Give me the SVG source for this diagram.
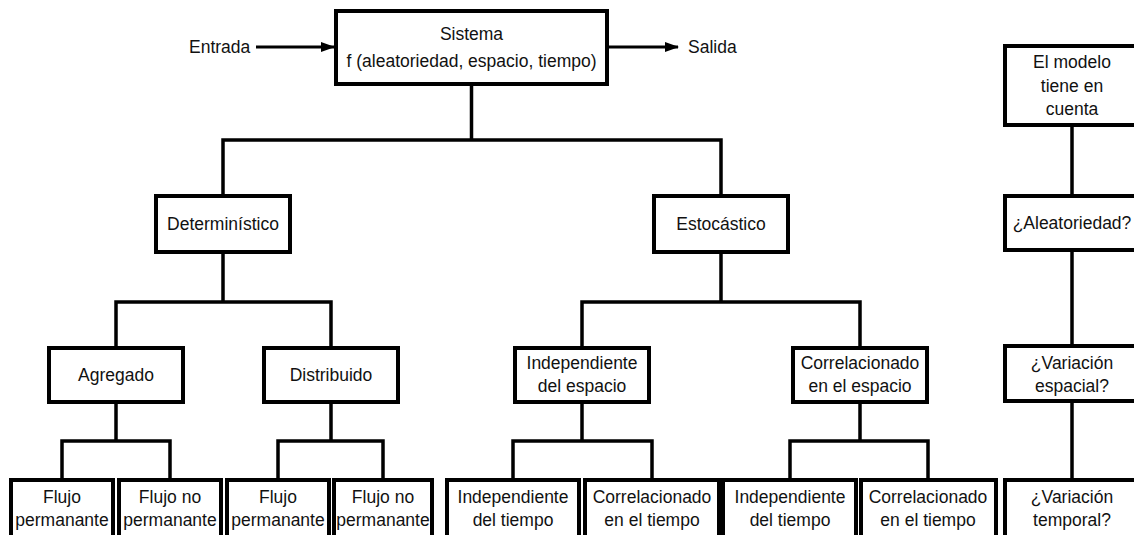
<svg xmlns="http://www.w3.org/2000/svg" width="1134" height="535" viewBox="0 0 1134 535">
<defs>
<style>
.box{fill:#fff;stroke:#000;stroke-width:4;stroke-linejoin:miter}
.ln{fill:none;stroke:#000;stroke-width:3.5;stroke-linecap:square}
.ar{fill:none;stroke:#000;stroke-width:3}
text{font-family:"Liberation Sans",Arial,sans-serif;font-size:17.5px;fill:#111}
.c{text-anchor:middle}
</style>
<marker id="ah" markerWidth="14" markerHeight="10" refX="13" refY="5" orient="auto" markerUnits="userSpaceOnUse">
<path d="M0,0 L14,5 L0,10 Z" fill="#000"/>
</marker>
</defs>
<rect width="1134" height="535" fill="#fff"/>
<g id="connectors">
<line class="ar" x1="256" y1="47" x2="334" y2="47" marker-end="url(#ah)"/>
<line class="ar" x1="609" y1="47" x2="678" y2="47" marker-end="url(#ah)"/>
<path class="ln" d="M471.5,84 V140 M223,140 H721 M223,140 V196 M721,140 V196"/>
<path class="ln" d="M223,252 V302 M116,302 H331 M116,302 V348 M331,302 V348"/>
<path class="ln" d="M721,252 V302 M582,302 H860 M582,302 V348 M860,302 V348"/>
<path class="ln" d="M116,402 V441 M62,441 H170 M62,441 V480 M170,441 V480"/>
<path class="ln" d="M331,402 V441 M278,441 H383 M278,441 V480 M383,441 V480"/>
<path class="ln" d="M582,402 V441 M513,441 H652 M513,441 V480 M652,441 V480"/>
<path class="ln" d="M860,402 V441 M790,441 H928 M790,441 V480 M928,441 V480"/>
<path class="ln" d="M1072,125 V196 M1072,250 V346 M1072,401 V480"/>
</g>
<g id="entrada"><text x="189" y="53">Entrada</text></g>
<g id="salida"><text x="688" y="53">Salida</text></g>
<g id="sistema"><rect class="box" x="336" y="11" width="271" height="73"/><text class="c" x="471.5" y="40">Sistema</text><text class="c" x="471.5" y="67">f (aleatoriedad, espacio, tiempo)</text></g>
<g id="deterministico"><rect class="box" x="156" y="196" width="134" height="56"/><text class="c" x="223" y="230">Determinístico</text></g>
<g id="estocastico"><rect class="box" x="654" y="196" width="134" height="56"/><text class="c" x="721" y="230">Estocástico</text></g>
<g id="agregado"><rect class="box" x="49" y="348" width="134" height="54"/><text class="c" x="116" y="381">Agregado</text></g>
<g id="distribuido"><rect class="box" x="264" y="348" width="134" height="54"/><text class="c" x="331" y="381">Distribuido</text></g>
<g id="indep-espacio"><rect class="box" x="515" y="348" width="134" height="54"/><text class="c" x="582" y="369">Independiente</text><text class="c" x="582" y="392">del espacio</text></g>
<g id="correl-espacio"><rect class="box" x="793" y="348" width="134" height="54"/><text class="c" x="860" y="369">Correlacionado</text><text class="c" x="860" y="392">en el espacio</text></g>
<g id="flujo-perm-1"><rect class="box" x="11" y="480" width="102" height="62"/><text class="c" x="62" y="503">Flujo</text><text class="c" x="62" y="526">permanante</text></g>
<g id="flujo-noperm-1"><rect class="box" x="119" y="480" width="102" height="62"/><text class="c" x="170" y="503">Flujo no</text><text class="c" x="170" y="526">permanante</text></g>
<g id="flujo-perm-2"><rect class="box" x="227" y="480" width="102" height="62"/><text class="c" x="278" y="503">Flujo</text><text class="c" x="278" y="526">permanante</text></g>
<g id="flujo-noperm-2"><rect class="box" x="334" y="480" width="98" height="62"/><text class="c" x="383" y="503">Flujo no</text><text class="c" x="383" y="526">permanante</text></g>
<g id="indep-tiempo-1"><rect class="box" x="447" y="480" width="132" height="62"/><text class="c" x="513" y="503">Independiente</text><text class="c" x="513" y="526">del tiempo</text></g>
<g id="correl-tiempo-1"><rect class="box" x="585" y="480" width="134" height="62"/><text class="c" x="652" y="503">Correlacionado</text><text class="c" x="652" y="526">en el tiempo</text></g>
<g id="indep-tiempo-2"><rect class="box" x="723" y="480" width="133" height="62"/><text class="c" x="790" y="503">Independiente</text><text class="c" x="790" y="526">del tiempo</text></g>
<g id="correl-tiempo-2"><rect class="box" x="861" y="480" width="135" height="62"/><text class="c" x="928" y="503">Correlacionado</text><text class="c" x="928" y="526">en el tiempo</text></g>
<g id="modelo"><rect class="box" x="1005" y="46" width="136" height="79"/><text class="c" x="1072" y="68">El modelo</text><text class="c" x="1072" y="92">tiene en</text><text class="c" x="1072" y="115">cuenta</text></g>
<g id="aleatoriedad"><rect class="box" x="1005" y="196" width="136" height="54"/><text class="c" x="1072" y="229">¿Aleatoriedad?</text></g>
<g id="var-espacial"><rect class="box" x="1005" y="346" width="136" height="55"/><text class="c" x="1072" y="369">¿Variación</text><text class="c" x="1072" y="392">espacial?</text></g>
<g id="var-temporal"><rect class="box" x="1005" y="480" width="136" height="62"/><text class="c" x="1072" y="503">¿Variación</text><text class="c" x="1072" y="526">temporal?</text></g>
</svg>
